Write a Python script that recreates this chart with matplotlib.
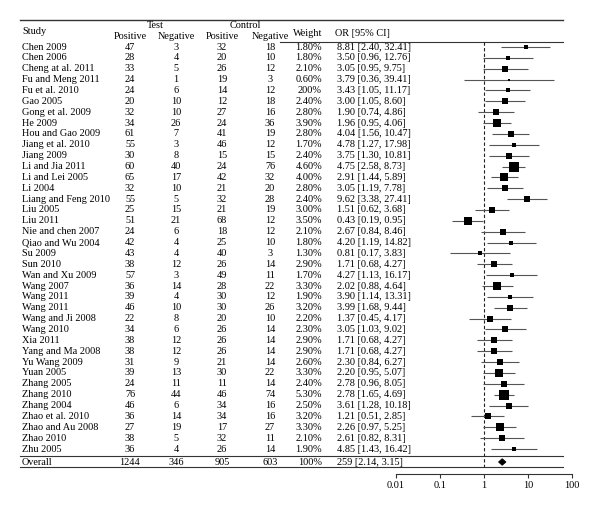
import matplotlib
matplotlib.use("Agg")
import matplotlib.pyplot as plt
from matplotlib.patches import Polygon

plt.rcParams['font.family'] = ['Liberation Serif', 'DejaVu Serif']

studies = ["Chen 2009", "Chen 2006", "Cheng at al. 2011", "Fu and Meng 2011", "Fu et al. 2010",
           "Gao 2005", "Gong et al. 2009", "He 2009", "Hou and Gao 2009", "Jiang et al. 2010",
           "Jiang 2009", "Li and Jia 2011", "Li and Lei 2005", "Li 2004", "Liang and Feng 2010",
           "Liu 2005", "Liu 2011", "Nie and chen 2007", "Qiao and Wu 2004", "Su 2009",
           "Sun 2010", "Wan and Xu 2009", "Wang 2007", "Wang 2011", "Wang 2011",
           "Wang and Ji 2008", "Wang 2010", "Xia 2011", "Yang and Ma 2008", "Yu Wang 2009",
           "Yuan 2005", "Zhang 2005", "Zhang 2010", "Zhang 2004", "Zhao et al. 2010",
           "Zhao and Au 2008", "Zhao 2010", "Zhu 2005"]
test_pos = [47, 28, 33, 24, 24, 20, 32, 34, 61, 55, 30, 60, 65, 32, 55, 25, 51, 24, 42, 43,
            38, 57, 36, 39, 46, 22, 34, 38, 38, 31, 39, 24, 76, 46, 36, 27, 38, 36]
test_neg = [3, 4, 5, 1, 6, 10, 10, 26, 7, 3, 8, 40, 17, 10, 5, 15, 21, 6, 4, 4,
            12, 3, 14, 4, 10, 8, 6, 12, 12, 9, 13, 11, 44, 6, 14, 19, 5, 4]
ctrl_pos = [32, 20, 26, 19, 14, 12, 27, 24, 41, 46, 15, 24, 42, 21, 32, 21, 68, 18, 25, 40,
            26, 49, 28, 30, 30, 20, 26, 26, 26, 21, 30, 11, 46, 34, 34, 17, 32, 26]
ctrl_neg = [18, 10, 12, 3, 12, 18, 16, 36, 19, 12, 15, 76, 32, 20, 28, 19, 12, 12, 10, 3,
            14, 11, 22, 12, 26, 10, 14, 14, 14, 14, 22, 14, 74, 16, 16, 27, 11, 14]
weight_labels = ["1.80%", "1.80%", "2.10%", "0.60%", "200%", "2.40%", "2.80%", "3.90%",
                 "2.80%", "1.70%", "2.40%", "4.60%", "4.00%", "2.80%", "2.40%", "3.00%",
                 "3.50%", "2.10%", "1.80%", "1.30%", "2.90%", "1.70%", "3.30%", "1.90%",
                 "3.20%", "2.20%", "2.30%", "2.90%", "2.90%", "2.60%", "3.30%", "2.40%",
                 "5.30%", "2.50%", "3.20%", "3.30%", "2.10%", "1.90%"]
weights = [1.8, 1.8, 2.1, 0.6, 2.0, 2.4, 2.8, 3.9, 2.8, 1.7, 2.4, 4.6, 4.0, 2.8, 2.4, 3.0,
           3.5, 2.1, 1.8, 1.3, 2.9, 1.7, 3.3, 1.9, 3.2, 2.2, 2.3, 2.9, 2.9, 2.6, 3.3, 2.4,
           5.3, 2.5, 3.2, 3.3, 2.1, 1.9]
odds = [8.81, 3.50, 3.05, 3.79, 3.43, 3.00, 1.90, 1.96, 4.04, 4.78, 3.75, 4.75, 2.91, 3.05,
        9.62, 1.51, 0.43, 2.67, 4.20, 0.81, 1.71, 4.27, 2.02, 3.90, 3.99, 1.37, 3.05, 1.71,
        1.71, 2.30, 2.20, 2.78, 2.78, 3.61, 1.21, 2.26, 2.61, 4.85]
ci_lo = [2.40, 0.96, 0.95, 0.36, 1.05, 1.05, 0.74, 0.95, 1.56, 1.27, 1.30, 2.58, 1.44, 1.19,
         3.38, 0.62, 0.19, 0.84, 1.19, 0.17, 0.68, 1.13, 0.88, 1.14, 1.68, 0.45, 1.03, 0.68,
         0.68, 0.84, 0.95, 0.96, 1.65, 1.28, 0.51, 0.97, 0.82, 1.43]
ci_hi = [32.41, 12.76, 9.75, 39.41, 11.17, 8.60, 4.86, 4.06, 10.47, 17.98, 10.81, 8.73, 5.89,
         7.78, 27.41, 3.68, 0.95, 8.46, 14.82, 3.83, 4.27, 16.17, 4.64, 13.31, 9.44, 4.17,
         9.02, 4.27, 4.27, 6.27, 5.07, 8.05, 4.69, 10.18, 2.85, 5.25, 8.31, 16.42]

overall_counts = [1244, 346, 905, 603]
overall_weight = "100%"
overall_label = "259"   # as printed in the source
overall_or, overall_lo, overall_hi = 2.59, 2.14, 3.15

ticks = [0.01, 0.1, 1, 10, 100]
tick_labels = ["0.01", "0.1", "1", "10", "100"]

W, H = 600, 515
ROW0, STEP = 47.0, 10.865


def row(px):
    # pixel height in the figure -> row units
    return (px - ROW0) / STEP


fig = plt.figure(figsize=(6, 5.15), dpi=100)
tab = fig.add_axes([0, 0, 1, 1])
tab.set_xlim(0, W)
tab.set_ylim(row(H), row(0))
tab.axis('off')

fs = 7.4
tc = 'black'
cols = [130, 176, 222, 270]

# header
tab.text(22, row(31), "Study", ha='left', va='center', fontsize=fs, color=tc)
tab.text(155, row(25), "Test", ha='center', va='center', fontsize=fs, color=tc)
tab.text(245, row(25), "Control", ha='center', va='center', fontsize=fs, color=tc)
for x, s in zip(cols, ["Positive", "Negative", "Positive", "Negative"]):
    tab.text(x, row(36), s, ha='center', va='center', fontsize=fs, color=tc)
tab.text(293, row(33), "Weight", ha='left', va='center', fontsize=fs, color=tc)
tab.text(335, row(33), "OR [95% CI]", ha='left', va='center', fontsize=fs, color=tc)

# study rows
for i, name in enumerate(studies):
    tab.text(22, i, name, ha='left', va='center', fontsize=fs, color=tc)
    for x, v in zip(cols, [test_pos[i], test_neg[i], ctrl_pos[i], ctrl_neg[i]]):
        tab.text(x, i, str(v), ha='center', va='center', fontsize=fs, color=tc)
    tab.text(322, i, weight_labels[i], ha='right', va='center', fontsize=fs, color=tc)
    tab.text(337, i, f"{odds[i]:.2f} [{ci_lo[i]:.2f}, {ci_hi[i]:.2f}]",
             ha='left', va='center', fontsize=fs, color=tc)

# overall row
yo = row(462)
tab.text(22, yo, "Overall", ha='left', va='center', fontsize=fs, color=tc)
for x, v in zip(cols, overall_counts):
    tab.text(x, yo, str(v), ha='center', va='center', fontsize=fs, color=tc)
tab.text(322, yo, overall_weight, ha='right', va='center', fontsize=fs, color=tc)
tab.text(337, yo, f"{overall_label} [{overall_lo:.2f}, {overall_hi:.2f}]",
         ha='left', va='center', fontsize=fs, color=tc)

# rules
rc = '#333333'
tab.plot([20, 563], [row(20), row(20)], color=rc, lw=1.0)
tab.plot([280, 563], [row(42), row(42)], color=rc, lw=0.8)
tab.plot([20, 563], [row(456), row(456)], color=rc, lw=0.8)
tab.plot([20, 563], [row(467), row(467)], color=rc, lw=0.8)

# forest panel
fx0, fx1 = 396, 572
fp = fig.add_axes([fx0 / W, 0, (fx1 - fx0) / W, 1])
fp.set_xscale('log')
fp.set_xlim(0.01, 100)
fp.set_ylim(row(H), row(0))
fp.patch.set_visible(False)
for s in ['top', 'left', 'right']:
    fp.spines[s].set_visible(False)
fp.spines['bottom'].set_position(('data', row(474)))
fp.spines['bottom'].set_color(rc)
fp.spines['bottom'].set_linewidth(0.8)
fp.set_yticks([])
fp.set_xticks(ticks)
fp.set_xticklabels(tick_labels, fontsize=fs, color=tc)
fp.xaxis.set_minor_locator(matplotlib.ticker.NullLocator())
fp.tick_params(axis='x', direction='out', length=3, width=0.8, color=rc, pad=2)

fp.plot([1, 1], [row(42), row(467)], color='#222222', lw=0.8, ls=(0, (3, 2)))

for i in range(len(studies)):
    fp.plot([ci_lo[i], ci_hi[i]], [i, i], color='#555555', lw=0.8, solid_capstyle='butt')
    side_px = 1.5 + 1.7 * weights[i]
    fp.plot(odds[i], i, marker='s', color='black', markersize=side_px * 0.72,
            markeredgewidth=0, linestyle='none')

dh = 0.3
fp.add_patch(Polygon([[overall_lo, yo], [overall_or, yo - dh], [overall_hi, yo],
                      [overall_or, yo + dh]], closed=True, facecolor='black',
                     edgecolor='black', lw=0.6))

fig.savefig("out.png", dpi=100)
